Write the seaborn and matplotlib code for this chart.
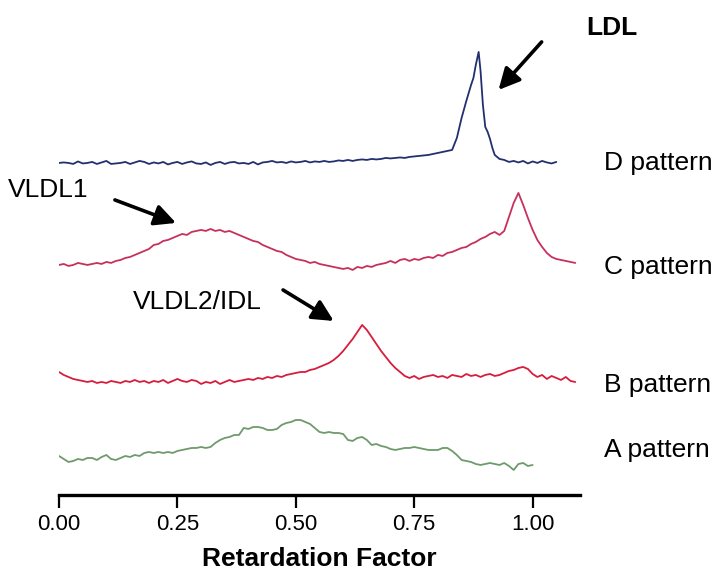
import numpy as np
import pandas as pd
import matplotlib
matplotlib.use("Agg")
import matplotlib.pyplot as plt
import seaborn as sns

# ---- densitometer scans (signal above each trace's own baseline) ----
d_rf = [round(0.01 * i, 3) for i in range(84)] + [
    0.84, 0.85, 0.86, 0.87, 0.875, 0.88, 0.886, 0.89, 0.895, 0.90, 0.905,
    0.91, 0.915, 0.92, 0.93,
    0.94, 0.95, 0.96, 0.97, 0.98, 0.99, 1.00, 1.01, 1.02, 1.03, 1.04, 1.05]
d_signal = [
    0, 0.5, 0, -1, 1.5, -0.5, 0, 1, -1, 0.5,
    2, -1, -0.5, 0, 1, -1, 0.5, 2, 1, -1,
    0.5, -0.5, 1, -1.5, 0, 1, -1, 0.5, 1.5, -0.5,
    -1, 0.5, -2, 0, 1, -1, 0.5, 1, -0.5, 0,
    -1, 1, -1.5, 0.5, 1, 2, 0.5, 1, 0, 1.5,
    0.5, 1, 2, 0.5, 1.5, 1, 2, 1, 1.5, 2.5,
    2, 3, 2, 3, 3.5, 3, 4, 3.5, 4, 5,
    4.5, 5, 5.5, 5, 6, 6.5, 7, 7.5, 8, 9,
    10, 11, 12, 13,
    25, 45, 62, 78, 85, 98, 111, 92, 58, 36, 31,
    24, 15, 8, 4,
    3, 1, 2, 0.5, 2, -0.5, 1.5, 0, 2, 0.5, -0.5, 1]

c_rf = [round(0.01 * i, 3) for i in range(110)]
c_signal = [
    0, 1, -1, 0, 2, 1, 0, 1, 2, 1,
    3, 2, 4, 5, 7, 8, 10, 12, 14, 16,
    20, 21, 24, 25, 27, 29, 31, 30, 33, 34,
    35, 34, 36, 34, 35, 33, 34, 32, 30, 28,
    26, 24, 23, 20, 18, 16, 14, 13, 10, 8,
    6, 5, 4, 2, 3, 1, 0, -1, -2, -3,
    -4, -3, -5, -2, -3, -1, -2, 0, 1, 2,
    4, 2, 5, 6, 4, 6, 5, 7, 8, 7,
    10, 9, 12, 13, 15, 17, 18, 21, 23, 26,
    28, 31, 33, 30, 34, 48, 62, 72, 60, 47,
    35, 25, 18, 12, 8, 6, 5, 4, 3, 2]

b_rf = [round(0.01 * i, 3) for i in range(110)]
b_signal = [
    8, 5, 3, 1, 0, -1, -2, -1, -3, -2,
    -3, -1, -2, -3, -1, -2, 0, -2, -1, -3,
    -1, -2, 0, -3, -1, 1, -1, -2, 0, -1,
    -4, -2, -3, -1, -4, -2, 0, -2, -1, 0,
    1, 0, 2, 1, 3, 2, 4, 3, 5, 6,
    7, 8, 8, 10, 11, 13, 15, 17, 20, 24,
    29, 35, 41, 48, 55, 50, 43, 36, 29, 23,
    17, 12, 8, 4, 2, 4, 1, 3, 4, 5,
    3, 4, 2, 5, 4, 3, 6, 4, 5, 3,
    5, 6, 4, 5, 7, 9, 10, 12, 13, 11,
    6, 3, 5, 1, 4, 2, 0, 3, -1, -2]

a_rf = [round(0.01 * i, 3) for i in range(101)]
a_signal = [
    4, 1, -2, -1, 1, 0, 2, 2, 0, 3,
    5, 1, 0, 2, 4, 3, 5, 4, 7, 8,
    7, 8, 7, 8, 7, 9, 10, 11, 12, 12,
    13, 12, 13, 17, 20, 22, 23, 25, 25, 32,
    31, 33, 33, 32, 30, 30, 31, 35, 37, 38,
    40, 40, 38, 36, 32, 28, 27, 28, 27, 27,
    26, 20, 19, 22, 23, 20, 15, 16, 14, 13,
    11, 10, 11, 12, 12, 13, 12, 11, 10, 10,
    10, 12, 12, 9, 5, 0, -1, -2, -4, -5,
    -4, -3, -4, -5, -3, -6, -10, -4, -3, -6,
    -5]

patterns = ["D pattern", "C pattern", "B pattern", "A pattern"]
tick_values = [0.0, 0.25, 0.5, 0.75, 1.0]
tick_labels = ["0.00", "0.25", "0.50", "0.75", "1.00"]

# vertical stacking of the traces, label heights and colours
stack = {"D pattern": 332, "C pattern": 230, "B pattern": 115, "A pattern": 35}
label_y = {"D pattern": 332, "C pattern": 228, "B pattern": 110, "A pattern": 45}
palette = {"D pattern": "#22306e", "C pattern": "#c8305c",
           "B pattern": "#d81c3c", "A pattern": "#6f9a6c"}

scans = {"D pattern": (d_rf, d_signal), "C pattern": (c_rf, c_signal),
         "B pattern": (b_rf, b_signal), "A pattern": (a_rf, a_signal)}
frames = []
for name in patterns:
    rf, sig = scans[name]
    frames.append(pd.DataFrame({"rf": rf,
                                "level": np.asarray(sig, float) + stack[name],
                                "pattern": name}))
df = pd.concat(frames, ignore_index=True)

sns.set_theme(style="white")
plt.rcParams["font.family"] = ["Liberation Sans", "DejaVu Sans"]
plt.rcParams["text.color"] = "black"
plt.rcParams["xtick.color"] = "black"
plt.rcParams["axes.labelcolor"] = "black"

fig = plt.figure(figsize=(7.18, 5.70), dpi=100)
ax = fig.add_axes([0.0822, 0.1316, 0.7256, 0.851])

sns.lineplot(data=df, x="rf", y="level", hue="pattern", palette=palette,
             estimator=None, sort=True, legend=False, linewidth=1.3, ax=ax)

ax.set_xlim(0, 1.1)
ax.set_ylim(0, 485)
for side in ("left", "right", "top"):
    ax.spines[side].set_visible(False)
ax.spines["bottom"].set_linewidth(2.4)
ax.spines["bottom"].set_color("black")
ax.set_yticks([])
ax.set_xticks(tick_values)
ax.set_xticklabels(tick_labels)
ax.tick_params(axis="x", direction="out", length=9, width=1.6, color="black",
               labelsize=16, pad=5, bottom=True)
ax.set_xlabel("Retardation Factor", fontsize=19, fontweight="bold", labelpad=8)
ax.set_ylabel("")

for name in patterns:
    ax.text(1.15, label_y[name], name, fontsize=19, ha="left", va="center",
            clip_on=False)

arrow = dict(arrowstyle="-|>", color="black", lw=2.6, mutation_scale=32,
             shrinkA=0, shrinkB=0)
ax.text(1.167, 467, "LDL", fontsize=19, fontweight="bold", ha="center",
        va="center", clip_on=False)
ax.annotate("", xy=(0.928, 405), xytext=(1.019, 453), arrowprops=arrow,
            annotation_clip=False)
ax.text(-0.108, 305, "VLDL1", fontsize=19, ha="left", va="center",
        clip_on=False)
ax.annotate("", xy=(0.247, 272), xytext=(0.118, 295), arrowprops=arrow,
            annotation_clip=False)
ax.text(0.156, 193, "VLDL2/IDL", fontsize=19, ha="left", va="center",
        clip_on=False)
ax.annotate("", xy=(0.58, 174), xytext=(0.473, 205), arrowprops=arrow,
            annotation_clip=False)

fig.savefig("out.png", dpi=100, facecolor="white")
